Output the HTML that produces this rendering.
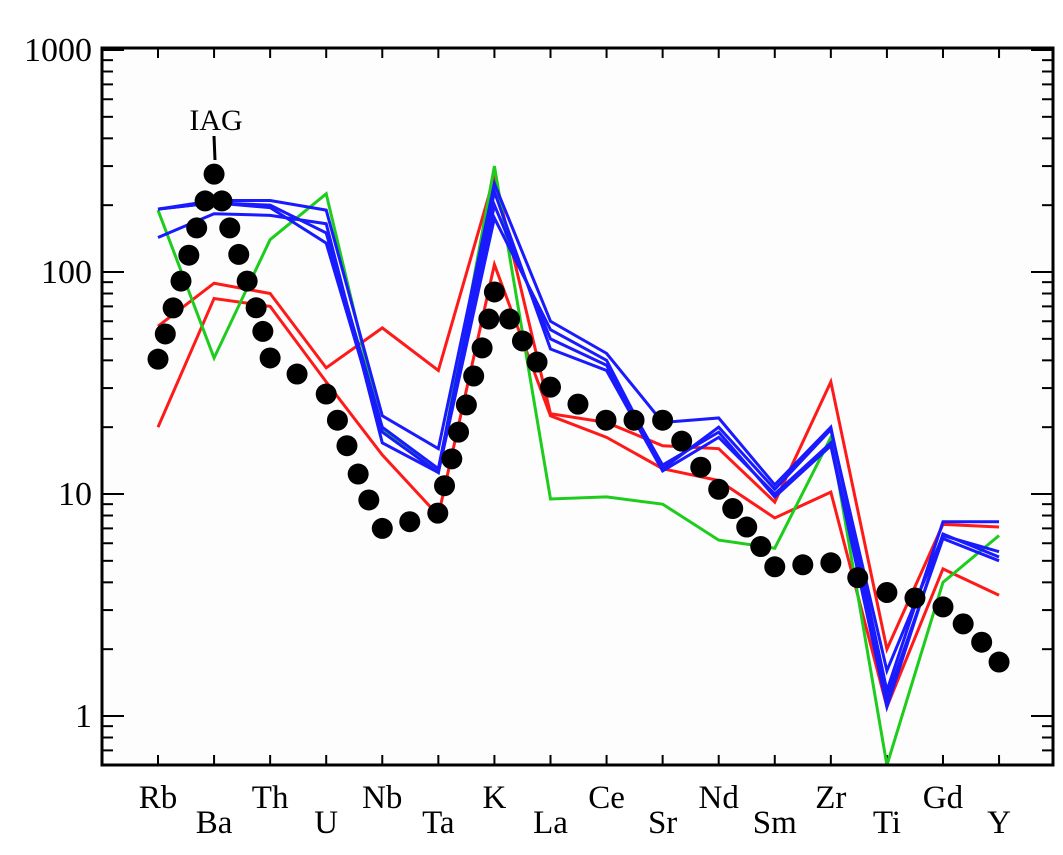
<!DOCTYPE html>
<html><head><meta charset="utf-8"><style>
html,body{margin:0;padding:0;background:#fff;}
svg{display:block;font-family:"Liberation Serif",serif;}
</style></head><body>
<svg id="chart" width="1063" height="855" xmlns="http://www.w3.org/2000/svg"></svg>
<script>
const categories=["Rb","Ba","Th","U","Nb","Ta","K","La","Ce","Sr","Nd","Sm","Zr","Ti","Gd","Y"];
const yTicks=[1,10,100,1000];
const redA=[20,76,70,32,15,8,108,22.5,18,13,11.5,7.8,10.2,1.1,4.6,3.5];
const redB=[57,89,80,37,56,36,270,23,21,16.5,16,9.2,32,2.0,7.3,7.1];
const green=[190,41,140,225,19.5,12.5,300,9.5,9.7,9.0,6.2,5.7,18,0.6,4.0,6.5];
const blue1=[192,210,210,190,22.5,16,250,60,43,21,22,11,20,1.3,7.5,7.5];
const blue2=[143,183,180,165,17,12.5,175,55,40,13,20,10.5,19.5,1.6,6.5,5.5];
const blue3=[192,205,200,150,20,13,230,45,36,12.7,18,10,17,1.2,6.3,5.0];
const blue4=[192,205,195,135,19,12.5,200,50,38,13.5,19,9.7,16.5,1.1,6.6,5.2];
const iagIndex=[0,0.13,0.27,0.41,0.55,0.69,0.84,1,1.14,1.28,1.44,1.59,1.75,1.87,2,2.48,3,3.2,3.37,3.57,3.76,4,4.49,4.99,5.11,5.24,5.36,5.5,5.63,5.78,5.9,6,6.27,6.5,6.76,7,7.49,7.99,8.49,9,9.34,9.68,10,10.25,10.5,10.75,11,11.5,12,12.48,13,13.5,14,14.36,14.69,15];
const iagValue=[40.5,52.6,68.9,91,119,158,209,276,209,158,120,91,69,54,41,34.7,28.2,21.5,16.5,12.3,9.4,7.0,7.5,8.2,10.9,14.4,19,25.2,34,45.5,61.4,81.3,61.4,48.9,39.3,30.3,25.4,21.5,21.5,21.5,17.3,13.2,10.5,8.6,7.1,5.8,4.7,4.8,4.9,4.2,3.6,3.4,3.1,2.6,2.15,1.75];

const svg=document.getElementById('chart');
const NS="http://www.w3.org/2000/svg";
const L=102,R=1053,T=48,B=765;
const x0=158,dx=56.07;
function xs(i){return x0+i*dx;}
function ys(v){return 716-222*Math.log10(v);}
function mk(tag,attrs,parent){const e=document.createElementNS(NS,tag);for(const k in attrs)e.setAttribute(k,attrs[k]);(parent||svg).appendChild(e);return e;}

const bg=mk('rect',{x:L,y:T,width:R-L,height:B-T,fill:'#fdfdfd'});



const ticksG=mk('g',{stroke:'#000','stroke-width':2});


for(let d=-1;d<=3;d++){for(let m=1;m<=9;m++){const v=m*Math.pow(10,d);const y=ys(v);if(y<T-1||y>B)continue;const len=m===1?22:11;
mk('line',{x1:L,x2:L+len,y1:y,y2:y},ticksG);mk('line',{x1:R-len,x2:R,y1:y,y2:y},ticksG);}}
yTicks.forEach(v=>{const t=mk('text',{x:92,y:ys(v)+11,'text-anchor':'end','font-size':34});t.textContent=v;

});
categories.forEach((c,i)=>{const x=xs(i);mk('line',{x1:x,x2:x,y1:B,y2:B-10,stroke:'#000','stroke-width':2});mk('line',{x1:x,x2:x,y1:T,y2:T+10,stroke:'#000','stroke-width':2});
const t=mk('text',{x:x,y:i%2===0?808:833,'text-anchor':'middle','font-size':33});t.textContent=c;

});

function series(vals,color,name){const pts=vals.map((v,i)=>xs(i)+','+ys(v)).join(' ');
const p=mk('polyline',{points:pts,fill:'none',stroke:color,'stroke-width':3,'stroke-linejoin':'miter'});

}
series(redA,'#ff1a1a','red-series-a');
series(redB,'#ff1a1a','red-series-b');
series(green,'#1ecc1e','green-series');
series(blue1,'#1a1aff','blue-series-1');
series(blue2,'#1a1aff','blue-series-2');
series(blue3,'#1a1aff','blue-series-3');
series(blue4,'#1a1aff','blue-series-4');

const dots=mk('g',{fill:'#000'});


iagIndex.forEach((ix,k)=>{const c=mk('circle',{cx:xs(ix),cy:ys(iagValue[k]),r:10.5},dots);

});

const lbl=mk('text',{x:216,y:130,'text-anchor':'middle','font-size':30});lbl.textContent='IAG';


mk('line',{x1:214,x2:215,y1:136,y2:160,stroke:'#000','stroke-width':3});

const frame=mk('rect',{x:L,y:T,width:R-L,height:B-T,fill:'none',stroke:'#000','stroke-width':3});


</script>
</body></html>
